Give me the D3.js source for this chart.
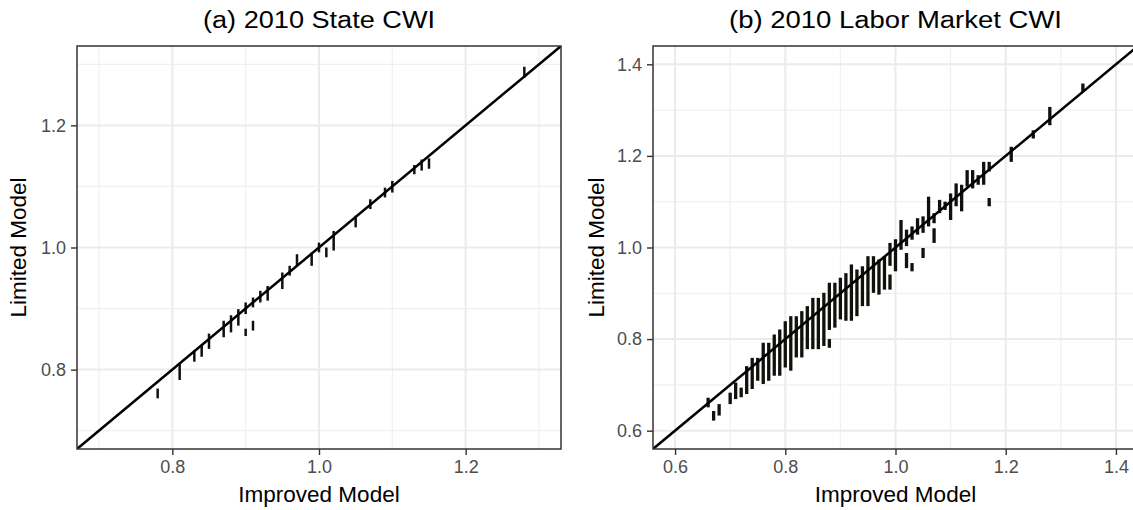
<head>
    <script src="https://d3js.org/d3.v7.min.js"></script>
    <style>
        body { margin: 0; overflow: hidden; background: white; }
        text { font-family: "Liberation Sans", Arial, sans-serif; }
        .tick text { fill: #4d4d4d; font-size: 18px; }
        .tick line { stroke: #333; stroke-width: 1.4; }
        .domain { stroke: none; }
    </style>
</head>

<body>
<svg id="plot" width="1133" height="510"></svg>
<script>
    // (a) state CWI: improved value, limited model range (lo..hi)
    const stateX  = [0.78, 0.81, 0.83, 0.84, 0.85, 0.87, 0.88, 0.89, 0.90, 0.90, 0.91, 0.91, 0.92, 0.93, 0.95, 0.96, 0.97, 0.99, 1.00, 1.01, 1.02, 1.05, 1.07, 1.09, 1.10, 1.13, 1.14, 1.15, 1.28];
    const stateLo = [0.753, 0.783, 0.813, 0.821, 0.834, 0.853, 0.861, 0.872, 0.855, 0.891, 0.864, 0.902, 0.910, 0.913, 0.932, 0.954, 0.970, 0.970, 0.992, 0.984, 0.995, 1.033, 1.063, 1.082, 1.090, 1.120, 1.126, 1.129, 1.278];
    const stateHi = [0.769, 0.810, 0.832, 0.840, 0.859, 0.880, 0.889, 0.899, 0.867, 0.910, 0.880, 0.918, 0.929, 0.937, 0.959, 0.970, 0.989, 0.992, 1.008, 1.000, 1.027, 1.052, 1.079, 1.098, 1.109, 1.135, 1.144, 1.146, 1.296];

    // (b) labor market CWI
    const laborX  = [0.66, 0.67, 0.68, 0.70, 0.71, 0.72, 0.73, 0.74, 0.75, 0.76, 0.77, 0.78, 0.79, 0.80, 0.81, 0.82, 0.83, 0.84, 0.85, 0.86, 0.87, 0.88, 0.88, 0.89, 0.90, 0.91, 0.92, 0.93, 0.94, 0.95, 0.96, 0.97, 0.98, 0.99, 0.99, 1.00, 1.01, 1.02, 1.02, 1.03, 1.03, 1.04, 1.05, 1.05, 1.06, 1.07, 1.07, 1.08, 1.09, 1.10, 1.11, 1.12, 1.13, 1.14, 1.15, 1.16, 1.17, 1.17, 1.21, 1.25, 1.28, 1.34];
    const laborLo = [0.651, 0.622, 0.633, 0.658, 0.669, 0.673, 0.680, 0.691, 0.709, 0.702, 0.709, 0.720, 0.720, 0.738, 0.731, 0.760, 0.760, 0.778, 0.778, 0.778, 0.785, 0.820, 0.781, 0.825, 0.843, 0.840, 0.840, 0.850, 0.872, 0.872, 0.901, 0.897, 0.908, 0.908, 0.960, 0.948, 0.995, 1.003, 0.955, 1.017, 0.948, 1.028, 1.032, 0.977, 1.046, 1.053, 1.010, 1.075, 1.082, 1.060, 1.090, 1.079, 1.133, 1.129, 1.137, 1.137, 1.166, 1.090, 1.187, 1.238, 1.267, 1.340];
    const laborHi = [0.672, 0.643, 0.658, 0.683, 0.705, 0.694, 0.741, 0.759, 0.759, 0.792, 0.792, 0.810, 0.821, 0.839, 0.850, 0.850, 0.861, 0.872, 0.890, 0.890, 0.901, 0.923, 0.800, 0.923, 0.934, 0.944, 0.963, 0.952, 0.959, 0.981, 0.981, 0.974, 0.981, 0.941, 1.010, 1.018, 1.060, 1.039, 0.988, 1.046, 0.966, 1.064, 1.068, 0.999, 1.111, 1.075, 1.042, 1.104, 1.100, 1.118, 1.140, 1.137, 1.169, 1.169, 1.158, 1.187, 1.187, 1.108, 1.220, 1.256, 1.307, 1.358];

    const stateTicks = [0.8, 1.0, 1.2];
    const stateMinor = [0.7, 0.9, 1.1, 1.3];
    const laborTicks = [0.6, 0.8, 1.0, 1.2, 1.4];
    const laborMinor = [0.7, 0.9, 1.1, 1.3];

    const svg = d3.select("svg#plot");

    const panels = [
        {id: "a", title: "(a) 2010 State CWI", titleLen: 232, xs: stateX, lo: stateLo, hi: stateHi,
         domain: [0.67, 1.33], ticks: stateTicks, minor: stateMinor,
         left: 77, right: 561, barW: 2.5, ylabX: 26},
        {id: "b", title: "(b) 2010 Labor Market CWI", titleLen: 333, xs: laborX, lo: laborLo, hi: laborHi,
         domain: [0.56, 1.44], ticks: laborTicks, minor: laborMinor,
         left: 653, right: 1138, barW: 3.3, ylabX: 604}
    ];
    const plotTop = 46, plotBottom = 449;

    panels.forEach(p => {
        const x = d3.scaleLinear().domain(p.domain).range([p.left, p.right]);
        const y = d3.scaleLinear().domain(p.domain).range([plotBottom, plotTop]);
        const g = svg.append("g");

        g.append("clipPath").attr("id", "clip-" + p.id)
            .append("rect")
            .attr("x", p.left).attr("y", plotTop)
            .attr("width", p.right - p.left).attr("height", plotBottom - plotTop);

        //gridlines
        const grid = g.append("g").attr("class", "gridlines");
        grid.selectAll("line.vminor").data(p.minor).enter().append("line")
            .attr("x1", d => x(d)).attr("x2", d => x(d))
            .attr("y1", plotTop).attr("y2", plotBottom)
            .attr("stroke", "#f0f0f0").attr("stroke-width", 1.2);
        grid.selectAll("line.hminor").data(p.minor).enter().append("line")
            .attr("x1", p.left).attr("x2", p.right)
            .attr("y1", d => y(d)).attr("y2", d => y(d))
            .attr("stroke", "#f0f0f0").attr("stroke-width", 1.2);
        grid.selectAll("line.vmajor").data(p.ticks).enter().append("line")
            .attr("x1", d => x(d)).attr("x2", d => x(d))
            .attr("y1", plotTop).attr("y2", plotBottom)
            .attr("stroke", "#ebebeb").attr("stroke-width", 2);
        grid.selectAll("line.hmajor").data(p.ticks).enter().append("line")
            .attr("x1", p.left).attr("x2", p.right)
            .attr("y1", d => y(d)).attr("y2", d => y(d))
            .attr("stroke", "#ebebeb").attr("stroke-width", 2);

        //bars
        const marks = g.append("g").attr("clip-path", `url(#clip-${p.id})`);
        marks.selectAll("rect")
            .data(p.xs.map((v, i) => ({x: v, lo: p.lo[i], hi: p.hi[i]})))
            .enter()
            .append("rect")
            .attr("x", d => x(d.x) - p.barW / 2)
            .attr("width", p.barW)
            .attr("y", d => y(d.hi))
            .attr("height", d => y(d.lo) - y(d.hi))
            .attr("fill", "#0f120c");

        //45 degree line
        marks.append("line")
            .attr("x1", x(p.domain[0])).attr("y1", y(p.domain[0]))
            .attr("x2", x(p.domain[1])).attr("y2", y(p.domain[1]))
            .attr("stroke", "black").attr("stroke-width", 2.5);

        //border
        g.append("rect")
            .attr("x", p.left).attr("y", plotTop)
            .attr("width", p.right - p.left).attr("height", plotBottom - plotTop)
            .attr("fill", "none").attr("stroke", "#333").attr("stroke-width", 1.5);

        //axes
        g.append("g")
            .attr("transform", `translate(0,${plotBottom})`)
            .call(d3.axisBottom(x).tickValues(p.ticks).tickFormat(d3.format(".1f")).tickSize(6).tickPadding(5));
        g.append("g")
            .attr("transform", `translate(${p.left},0)`)
            .call(d3.axisLeft(y).tickValues(p.ticks).tickFormat(d3.format(".1f")).tickSize(6).tickPadding(5));

        //titles
        const cx = (p.left + p.right) / 2;
        g.append("text")
            .attr("x", cx).attr("y", 28)
            .attr("text-anchor", "middle")
            .attr("font-size", 23.5)
            .attr("textLength", p.titleLen)
            .attr("lengthAdjust", "spacingAndGlyphs")
            .text(p.title);
        g.append("text")
            .attr("x", cx).attr("y", 502)
            .attr("text-anchor", "middle")
            .attr("font-size", 22.5)
            .text("Improved Model");
        g.append("text")
            .attr("transform", `translate(${p.ylabX},${(plotTop + plotBottom) / 2}) rotate(-90)`)
            .attr("text-anchor", "middle")
            .attr("font-size", 22.5)
            .text("Limited Model");
    });
</script>
</body>
